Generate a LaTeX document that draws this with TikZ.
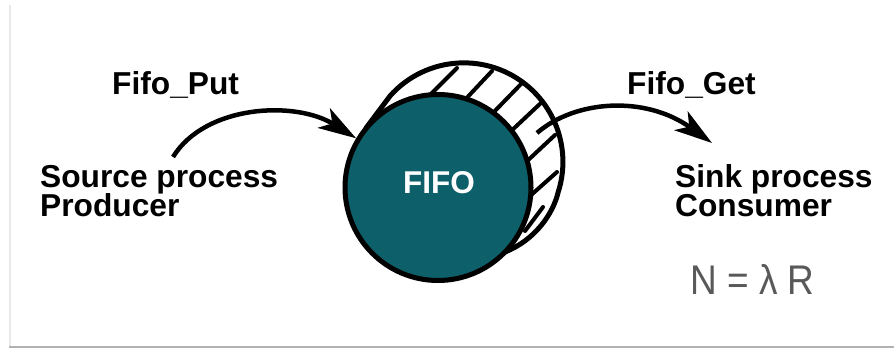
\documentclass[tikz,border=0pt]{standalone}
\usepackage{fontspec}
\setmainfont{Liberation Sans}
\usetikzlibrary{arrows.meta}
\definecolor{fifoteal}{HTML}{0D5F6A}
\definecolor{eqgray}{HTML}{595959}
\tikzset{
  lbl/.style={inner sep=0pt, anchor=base west, font=\fontsize{31.7}{36}\selectfont\bfseries, text=black},
  outline/.style={draw=black, line width=5pt, line cap=round, line join=round},
  hatchline/.style={draw=black, line width=4pt, line cap=round},
  flow/.style={draw=black, line width=4.5pt, -{Stealth[length=38pt,width=23pt,inset=10pt]}},
  fifonode/.style={circle, draw=black, line width=5pt, fill=fifoteal, minimum size=186pt, inner sep=0pt},
}
\begin{document}
\begin{tikzpicture}[x=1pt, y=1pt]
\useasboundingbox (0,0) rectangle (894,348);
% card shadow
\draw[gray!18, line width=2pt] (9.5,343) -- (9.5,2);
\draw[gray!60, line width=2pt] (9,1.2) -- (894,1.2);

% back of the cylinder
\draw[outline] (366,220) -- (390,252) arc[start angle=138.3, end angle=-17.9, radius=99]
  .. controls (553,134) and (535,108) .. (505,96);
% hatching
\draw[hatchline] (424,247) -- (457,280);
\draw[hatchline] (462,245) -- (492,277);
\draw[hatchline] (490,232) -- (523,266);
\draw[hatchline] (509,215) -- (542,246);
\draw[hatchline] (525,185) -- (555,213);
\draw[hatchline] (530,152) -- (557,176);
\draw[hatchline] (525,117) -- (543,141);

% front disc
\node[fifonode] (fifo) at (438,160.5) {};
\node[inner sep=0pt, font=\fontsize{31.5}{36}\selectfont\bfseries, text=white] (fifolabel) at (439,165) {FIFO};

% connectors
\coordinate (putstart) at (173,191);
\coordinate (getstart) at (537,215);
\coordinate (getend) at (712,205);
\draw[flow] (putstart) .. controls (205,243) and (295,248) .. (fifo.149);
\draw[flow] (getstart) .. controls (575,248) and (645,253) .. (getend);

% texts
\node[lbl] (put) at (112,253) {Fifo\_Put};
\node[lbl] (get) at (627,253) {Fifo\_Get};
\node[lbl] (src1) at (40,160) {Source process};
\node[lbl] (src2) at (40,131.3) {Producer};
\node[lbl] (snk1) at (675,160) {Sink process};
\node[lbl] (snk2) at (675,131.3) {Consumer};
\node[inner sep=0pt, anchor=base west, font=\fontsize{37}{44}\selectfont, text=eqgray, yscale=1.12, transform shape] (law) at (690,53) {N = λ R};
\end{tikzpicture}
\end{document}
